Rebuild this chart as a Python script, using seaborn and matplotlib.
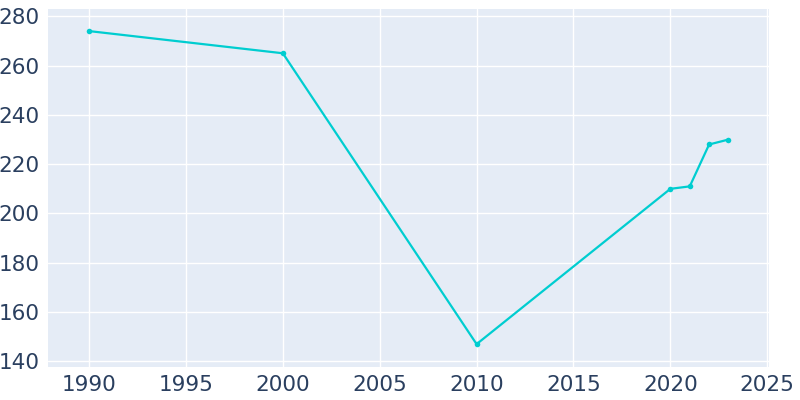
import matplotlib
matplotlib.use("Agg")
import matplotlib.pyplot as plt
import seaborn as sns
import pandas as pd

years = [1990, 2000, 2010, 2020, 2021, 2022, 2023]
population = [274, 265, 147, 210, 211, 228, 230]
xticks = [1990, 1995, 2000, 2005, 2010, 2015, 2020, 2025]
yticks = [140, 160, 180, 200, 220, 240, 260, 280]

df = pd.DataFrame({"year": years, "population": population})

sns.set_style("darkgrid", {"axes.facecolor": "#e5ecf6", "grid.color": "white"})
plt.rcParams['font.family'] = ['DejaVu Sans']

fig = plt.figure(figsize=(8, 4), dpi=100)
ax = fig.add_axes([0.06, 0.083, 0.901, 0.8945])
sns.lineplot(data=df, x="year", y="population", ax=ax, color="#00cdd0",
             linewidth=1.6, marker="o", markersize=4, markeredgewidth=0)

ax.set_xlim(1987.88, 2025.08)
ax.set_ylim(137.8, 282.96)
ax.set_xticks(xticks)
ax.set_yticks(yticks)
ax.tick_params(axis="both", labelsize=15.5, colors="#2a3f5f", length=0, pad=6)
ax.grid(True, color="white", linewidth=1)
ax.set_xlabel("")
ax.set_ylabel("")
for s in ax.spines.values():
    s.set_visible(False)

fig.savefig("out.png", dpi=100)
